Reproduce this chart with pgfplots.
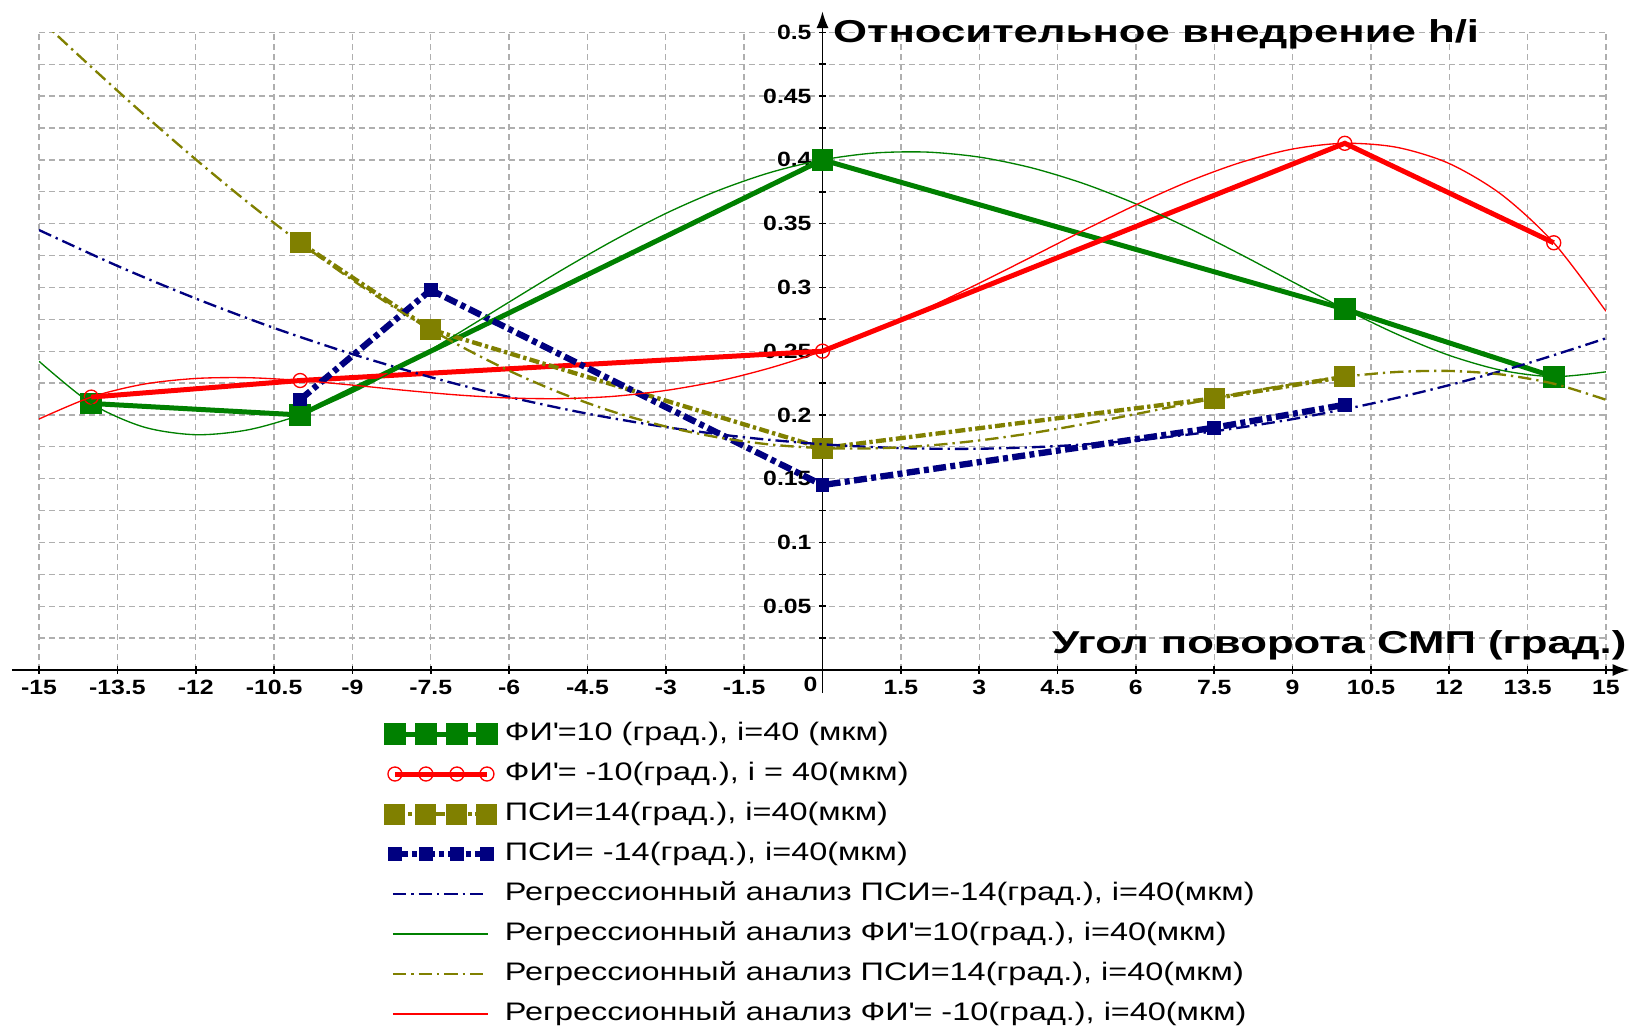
\documentclass[border=0pt]{standalone}
\usepackage{fontspec}
\setmainfont{Liberation Sans}
\newfontfamily\tickfont{Liberation Sans}[FakeStretch=1.2, UprightFont=*-Bold]
\newfontfamily\legfont{Liberation Sans}[FakeStretch=1.28]
\newfontfamily\titlefont{Liberation Sans}[FakeStretch=1.38, UprightFont=*-Bold]
\usepackage{pgfplots}
\pgfplotsset{compat=1.18}
\usetikzlibrary{arrows.meta}
\definecolor{cgreen}{RGB}{0,128,0}
\definecolor{cred}{RGB}{255,0,0}
\definecolor{colive}{RGB}{128,128,0}
\definecolor{cnavy}{RGB}{0,0,128}
\definecolor{cgrid}{RGB}{175,175,175}
\pgfplotsset{
  markleg/.style={legend image code/.code={%
    \path[draw=none, fill=none] (0pt,-6pt) rectangle (35.7pt,6pt);
    \draw[##1] plot coordinates {(2.7pt,0pt) (12pt,0pt) (21.3pt,0pt) (30.3pt,0pt)};}},
  lineleg/.style={legend image code/.code={%
    \path[draw=none, fill=none] (0pt,-6pt) rectangle (35.7pt,6pt);
    \draw[##1] (2.1pt,0pt) -- (30.6pt,0pt);}},
}
\begin{document}
\begin{tikzpicture}
\useasboundingbox (-11.7pt,-108pt) rectangle (479.4pt,201pt);
\begin{axis}[
  at={(0pt,0pt)}, anchor=south west,
  scale only axis, width=470.1pt, height=191.3pt,
  xmin=-15, xmax=15, ymin=0, ymax=0.5,
  enlargelimits=false,
  axis lines=middle,
  clip mode=individual,
  axis line style={black, line width=0.5pt},
  x axis line style={-{Latex[length=5pt,width=3.6pt]}, shorten >=-7pt, shorten <=-8.1pt},
  y axis line style={-{Latex[length=5pt,width=3.6pt]}, shorten >=-6.3pt, shorten <=-6.9pt},
  xtick={-15,-13.5,-12,-10.5,-9,-7.5,-6,-4.5,-3,-1.5,1.5,3,4.5,6,7.5,9,10.5,12,13.5,15},
  xticklabels={-15,-13.5,-12,-10.5,-9,-7.5,-6,-4.5,-3,-1.5,1.5,3,4.5,6,7.5,9,10.5,12,13.5,15},
  ytick={0.05,0.1,0.15,0.2,0.25,0.3,0.35,0.4,0.45,0.5},
  yticklabels={0.05,0.1,0.15,0.2,0.25,0.3,0.35,0.4,0.45,0.5},
  minor ytick={0.025,0.075,0.125,0.175,0.225,0.275,0.325,0.375,0.425,0.475},
  grid=both,
  major grid style={cgrid, dash pattern=on 1.8pt off 1.2pt, line width=0.4pt},
  minor grid style={cgrid, dash pattern=on 1.8pt off 1.2pt, line width=0.4pt},
  tick align=center,
  major tick length=2.2pt, minor tick length=2.2pt,
  tick style={black, line width=0.5pt},
  xticklabel style={font=\tickfont\fontsize{6.2}{7.2}\selectfont, anchor=north, inner sep=0pt, yshift=-1.8pt},
  yticklabel style={font=\tickfont\fontsize{6.2}{7.2}\selectfont, anchor=east, inner sep=0pt, xshift=-2pt},
  legend style={at={(0.2214,-0.069)}, anchor=north west, draw=none, fill=none,
    inner sep=0pt, outer sep=0pt, row sep=0pt, column sep=0pt,
    font=\legfont\fontsize{7.6}{9}\selectfont, nodes={inner sep=0pt}},
  legend cell align=left,
]
\addplot[markleg, cgreen, line width=1.5pt, mark=square*, mark size=2.5pt, mark options={solid}]
  coordinates {(-14,0.209) (-10,0.200) (0,0.400) (10,0.283) (14,0.230)};
\addlegendentry{ФИ\textquotesingle=10 (град.), i=40 (мкм)}
\addplot[markleg, cred, line width=1.5pt, mark=o, mark size=2.1pt, mark options={solid, line width=0.4pt}]
  coordinates {(-14,0.214) (-10,0.227) (0,0.250) (10,0.413) (14,0.335)};
\addlegendentry{ФИ\textquotesingle= -10(град.), i = 40(мкм)}
\addplot[markleg, colive, line width=1.3pt, dash pattern=on 3pt off 1pt on 1pt off 1pt, mark=square*, mark size=2.5pt, mark options={solid}]
  coordinates {(-10,0.335) (-7.5,0.267) (0,0.174) (7.5,0.213) (10,0.230)};
\addlegendentry{ПСИ=14(град.), i=40(мкм)}
\addplot[markleg, cnavy, line width=1.9pt, dash pattern=on 3.9pt off 1.3pt on 1.5pt off 1.3pt, mark=square*, mark size=1.1pt, mark options={solid}]
  coordinates {(-10,0.212) (-7.5,0.298) (0,0.145) (7.5,0.190) (10,0.208)};
\addlegendentry{ПСИ= -14(град.), i=40(мкм)}
\addplot[lineleg, cnavy, line width=0.7pt, dash pattern=on 4pt off 1.5pt on 0.7pt off 1.5pt, smooth]
  coordinates {(-15,0.3450) (-13.5,0.3169) (-12,0.2913) (-10.5,0.2682) (-9,0.2477) (-7.5,0.2296) (-6,0.2141) (-4.5,0.2010) (-3,0.1905) (-1.5,0.1825) (0,0.1770) (1.5,0.1740) (3,0.1735) (4.5,0.1756) (6,0.1801) (7.5,0.1872) (9,0.1967) (10.5,0.2088) (12,0.2234) (13.5,0.2405) (15,0.2601)};
\addlegendentry{Регрессионный анализ ПСИ=-14(град.), i=40(мкм)}
\addplot[lineleg, cgreen, line width=0.4pt, smooth]
  coordinates {(-15,0.2421) (-14,0.2090) (-13,0.1906) (-12,0.1845) (-11,0.1883) (-10,0.2000) (-9,0.2176) (-8,0.2392) (-7,0.2634) (-6,0.2885) (-5,0.3134) (-4,0.3368) (-3,0.3580) (-2,0.3759) (-1,0.3901) (0,0.4000) (1,0.4054) (2,0.4061) (3,0.4022) (4,0.3938) (5,0.3814) (6,0.3655) (7,0.3467) (8,0.3260) (9,0.3044) (10,0.2830) (11,0.2633) (12,0.2467) (13,0.2350) (14,0.2300) (15,0.2338)};
\addlegendentry{Регрессионный анализ ФИ\textquotesingle=10(град.), i=40(мкм)}
\addplot[lineleg, colive, line width=0.7pt, dash pattern=on 4pt off 1.5pt on 0.7pt off 1.5pt, smooth]
  coordinates {(-15,0.5108) (-14,0.4729) (-13,0.4359) (-12,0.4004) (-11,0.3666) (-10,0.3350) (-9,0.3058) (-8,0.2792) (-7,0.2555) (-6,0.2347) (-5,0.2170) (-4,0.2024) (-3,0.1909) (-2,0.1824) (-1,0.1768) (0,0.1740) (1,0.1738) (2,0.1759) (3,0.1800) (4,0.1857) (5,0.1928) (6,0.2007) (7,0.2089) (8,0.2170) (9,0.2242) (10,0.2300) (11,0.2337) (12,0.2345) (13,0.2317) (14,0.2245) (15,0.2119)};
\addlegendentry{Регрессионный анализ ПСИ=14(град.), i=40(мкм)}
\addplot[lineleg, cred, line width=0.4pt, smooth]
  coordinates {(-15,0.1968) (-14,0.2140) (-13,0.2241) (-12,0.2286) (-11,0.2292) (-10,0.2270) (-9,0.2234) (-8,0.2193) (-7,0.2157) (-6,0.2133) (-5,0.2128) (-4,0.2146) (-3,0.2192) (-2,0.2265) (-1,0.2369) (0,0.2500) (1,0.2657) (2,0.2837) (3,0.3033) (4,0.3239) (5,0.3447) (6,0.3647) (7,0.3829) (8,0.3979) (9,0.4085) (10,0.4130) (11,0.4098) (12,0.3971) (13,0.3728) (14,0.3350) (15,0.2813)};
\addlegendentry{Регрессионный анализ ФИ\textquotesingle= -10(град.), i=40(мкм)}
\node[anchor=base west, inner sep=0pt, xshift=3pt, font=\titlefont\fontsize{9.5}{11}\selectfont] at (axis cs:0,0.4924) {Относительное внедрение h/i};
\node[anchor=base east, inner sep=0pt, font=\titlefont\fontsize{9.5}{11}\selectfont] at (axis cs:15.4,0.0133) {Угол поворота СМП (град.)};
\node[anchor=north east, inner sep=0pt, xshift=-1.3pt, yshift=-1.8pt, font=\tickfont\fontsize{6.2}{7.2}\selectfont] at (axis cs:0,0) {0};
\end{axis}
\end{tikzpicture}
\end{document}
